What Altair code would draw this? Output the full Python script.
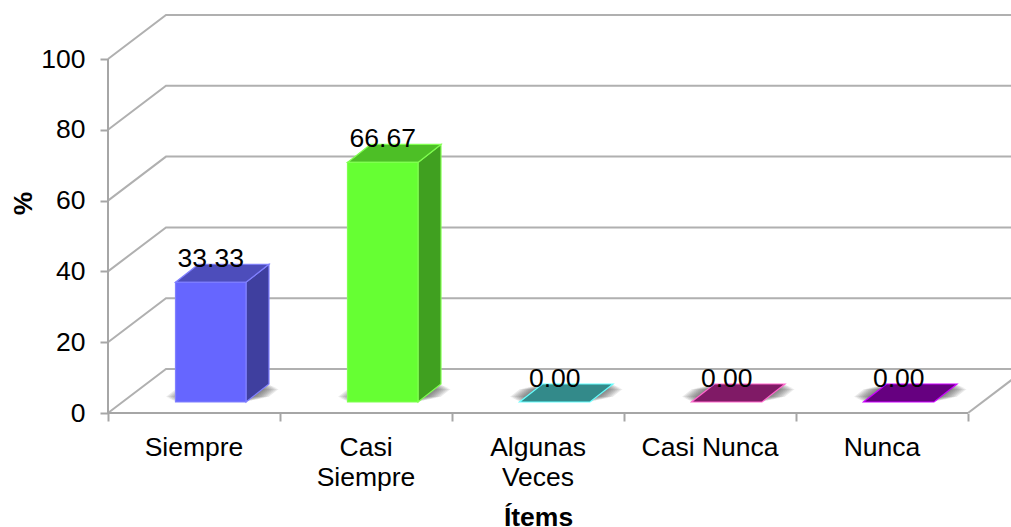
import altair as alt
import pandas as pd

# Survey results
categories = ["Siempre", "Casi|Siempre", "Algunas|Veces", "Casi Nunca", "Nunca"]
values = [33.33, 66.67, 0.0, 0.0, 0.0]

# Face colours per category
front_colors = ["#6666ff", "#66ff33", "#33cccc", "#ff33cc", "#9900cc"]
side_colors = ["#3f3f9f", "#40a020", "#2a7f7f", "#801a66", "#660080"]
top_colors = ["#4d4dbb", "#4dbf26", "#338a8a", "#801a66", "#660080"]
edge_colors = ["#8080ff", "#80ff50", "#66ffff", "#ff66cc", "#cc00ff"]

y_ticks = [0, 20, 40, 60, 80, 100]
x_ticks = [0, 1, 2, 3, 4, 5]

# Oblique projection, in axis units (one category wide, one percent tall)
PX_X = 172.0
PX_Y = 3.54
X_MAX = 903 / PX_X
Y_MAX = 413 / PX_Y
WALL_DX = 58 / PX_X
WALL_DY = 44 / PX_Y
BAR_LEFT = 67.5 / PX_X
BAR_WIDTH = 70.5 / PX_X
BAR_BASE = 11 / PX_Y
BAR_DX = 23 / PX_X
BAR_DY = 18 / PX_Y
FRONT_STRETCH = 1.015

GRID = "#b0b0b0"
FONT = "Liberation Sans"
TEXT_SIZE = 26.5

x_scale = alt.Scale(domain=[0, X_MAX], nice=False, zero=False)
y_scale = alt.Scale(domain=[0, Y_MAX], nice=False, zero=False)

# Every layer shares one pair of axes: ticks, tick labels and titles
x_axis = alt.Axis(
    values=x_ticks, labels=False, grid=False, domain=False,
    tickSize=8, tickColor="#a6a6a6", tickWidth=2,
    title="Ítems", titleFont=FONT, titleFontSize=TEXT_SIZE, titleFontWeight="bold",
    titleColor="black", titleX=430, titleY=112, titleBaseline="alphabetic",
)
y_axis = alt.Axis(
    values=y_ticks, grid=False, domain=False,
    tickSize=8, tickColor="#a6a6a6", tickWidth=2,
    labelFont=FONT, labelFontSize=TEXT_SIZE, labelColor="black", labelPadding=15,
    title="%", titleFont=FONT, titleFontSize=TEXT_SIZE, titleFontWeight="bold",
    titleColor="black", titleX=-77, titleY=203, titleBaseline="alphabetic",
)
X = alt.X("x:Q", scale=x_scale, axis=x_axis)
Y = alt.Y("y:Q", scale=y_scale, axis=y_axis)

# Back wall and left wall gridlines
grid_rows = []
for v in y_ticks:
    grid_rows += [
        {"id": v, "k": 0, "x": 0, "y": v},
        {"id": v, "k": 1, "x": WALL_DX, "y": v + WALL_DY},
        {"id": v, "k": 2, "x": X_MAX, "y": v + WALL_DY},
    ]
grid = alt.Chart(pd.DataFrame(grid_rows)).mark_line(color=GRID, strokeWidth=2).encode(
    x=X, y=Y, detail="id:N", order="k:Q"
)

# Floor edge on the right, running out of the frame
floor_edge = alt.Chart(pd.DataFrame([
    {"x": 5, "y": 0}, {"x": 5 + WALL_DX, "y": WALL_DY}
])).mark_line(color=GRID, strokeWidth=2, clip=True).encode(x=X, y=Y)

# Axis lines
axis_rows = [
    {"id": "v", "x": 0, "y": 0}, {"id": "v", "x": 0, "y": 100},
    {"id": "h", "x": 0, "y": 0}, {"id": "h", "x": 5, "y": 0},
]
axis_lines = alt.Chart(pd.DataFrame(axis_rows)).mark_line(color="#a6a6a6", strokeWidth=2).encode(
    x=X, y=Y, detail="id:N"
)

# Soft shadows under each bar: translucent footprints that widen while thinning
shadow_rows = []
for i in range(len(values)):
    for ring in range(1, 9):
        grow = ring * 2.0 / PX_X
        inset = ring * 0.035
        left = i + BAR_LEFT
        key = f"{i}-{ring}"
        shadow_rows += [
            {"id": key, "y": BAR_BASE + BAR_DY * inset,
             "x": left + BAR_DX * inset - grow,
             "x2": left + BAR_DX * inset + BAR_WIDTH + grow},
            {"id": key, "y": BAR_BASE + BAR_DY * (1 - inset),
             "x": left + BAR_DX * (1 - inset) - grow,
             "x2": left + BAR_DX * (1 - inset) + BAR_WIDTH + grow},
        ]
shadows = alt.Chart(pd.DataFrame(shadow_rows)).mark_area(
    orient="horizontal", color="#404040", opacity=0.11
).encode(x=X, x2="x2:Q", y=Y, detail="id:N")

# Bar faces
front_rows, side_rows, top_rows = [], [], []
for i, v in enumerate(values):
    left = i + BAR_LEFT
    right = left + BAR_WIDTH
    top = BAR_BASE + v * FRONT_STRETCH
    if v > 0:
        front_rows.append({"x": left, "x2": right, "y": top, "y2": BAR_BASE,
                           "fill": front_colors[i], "edge": edge_colors[i]})
        side_rows += [
            {"id": i, "x": right, "y": top, "y2": BAR_BASE,
             "fill": side_colors[i], "edge": edge_colors[i]},
            {"id": i, "x": right + BAR_DX, "y": top + BAR_DY, "y2": BAR_BASE + BAR_DY,
             "fill": side_colors[i], "edge": edge_colors[i]},
        ]
    top_rows += [
        {"id": i, "y": top, "x": left, "x2": right,
         "fill": top_colors[i], "edge": edge_colors[i]},
        {"id": i, "y": top + BAR_DY, "x": left + BAR_DX, "x2": right + BAR_DX,
         "fill": top_colors[i], "edge": edge_colors[i]},
    ]

fill = alt.Color("fill:N", scale=None)
edge = alt.Stroke("edge:N", scale=None)
fronts = alt.Chart(pd.DataFrame(front_rows)).mark_rect(strokeWidth=1.2).encode(
    x=X, x2="x2:Q", y=Y, y2="y2:Q", color=fill, stroke=edge
)
sides = alt.Chart(pd.DataFrame(side_rows)).mark_area(strokeWidth=1.2).encode(
    x=X, y=Y, y2="y2:Q", color=fill, stroke=edge, detail="id:N"
)
tops = alt.Chart(pd.DataFrame(top_rows)).mark_area(orient="horizontal", strokeWidth=1.2).encode(
    x=X, x2="x2:Q", y=Y, color=fill, stroke=edge, detail="id:N"
)

# Value labels above the bars
label_rows = [
    {"x": i + BAR_LEFT + BAR_WIDTH / 2, "y": BAR_BASE + v * FRONT_STRETCH, "t": f"{v:.2f}"}
    for i, v in enumerate(values)
]
value_labels = alt.Chart(pd.DataFrame(label_rows)).mark_text(
    font=FONT, fontSize=TEXT_SIZE, color="black", baseline="alphabetic", dy=-15
).encode(x=X, y=Y, text="t:N")

# Category labels under the axis
cat_rows = [{"x": i + 0.5, "y": 0, "t": c} for i, c in enumerate(categories)]
cat_labels = alt.Chart(pd.DataFrame(cat_rows)).mark_text(
    font=FONT, fontSize=TEXT_SIZE, color="black", baseline="top",
    lineBreak="|", lineHeight=30, dy=22
).encode(x=X, y=Y, text="t:N")

chart = alt.layer(
    grid, floor_edge, axis_lines, shadows, sides, tops, fronts,
    value_labels, cat_labels,
).properties(
    width=903, height=413,
    autosize=alt.AutoSizeParams(type="none"),
    padding={"left": 108, "top": 0, "right": 0, "bottom": 114},
    background="white",
).configure_view(stroke=None)

chart.save("out.html", embed_options={"renderer": "svg", "actions": False})
